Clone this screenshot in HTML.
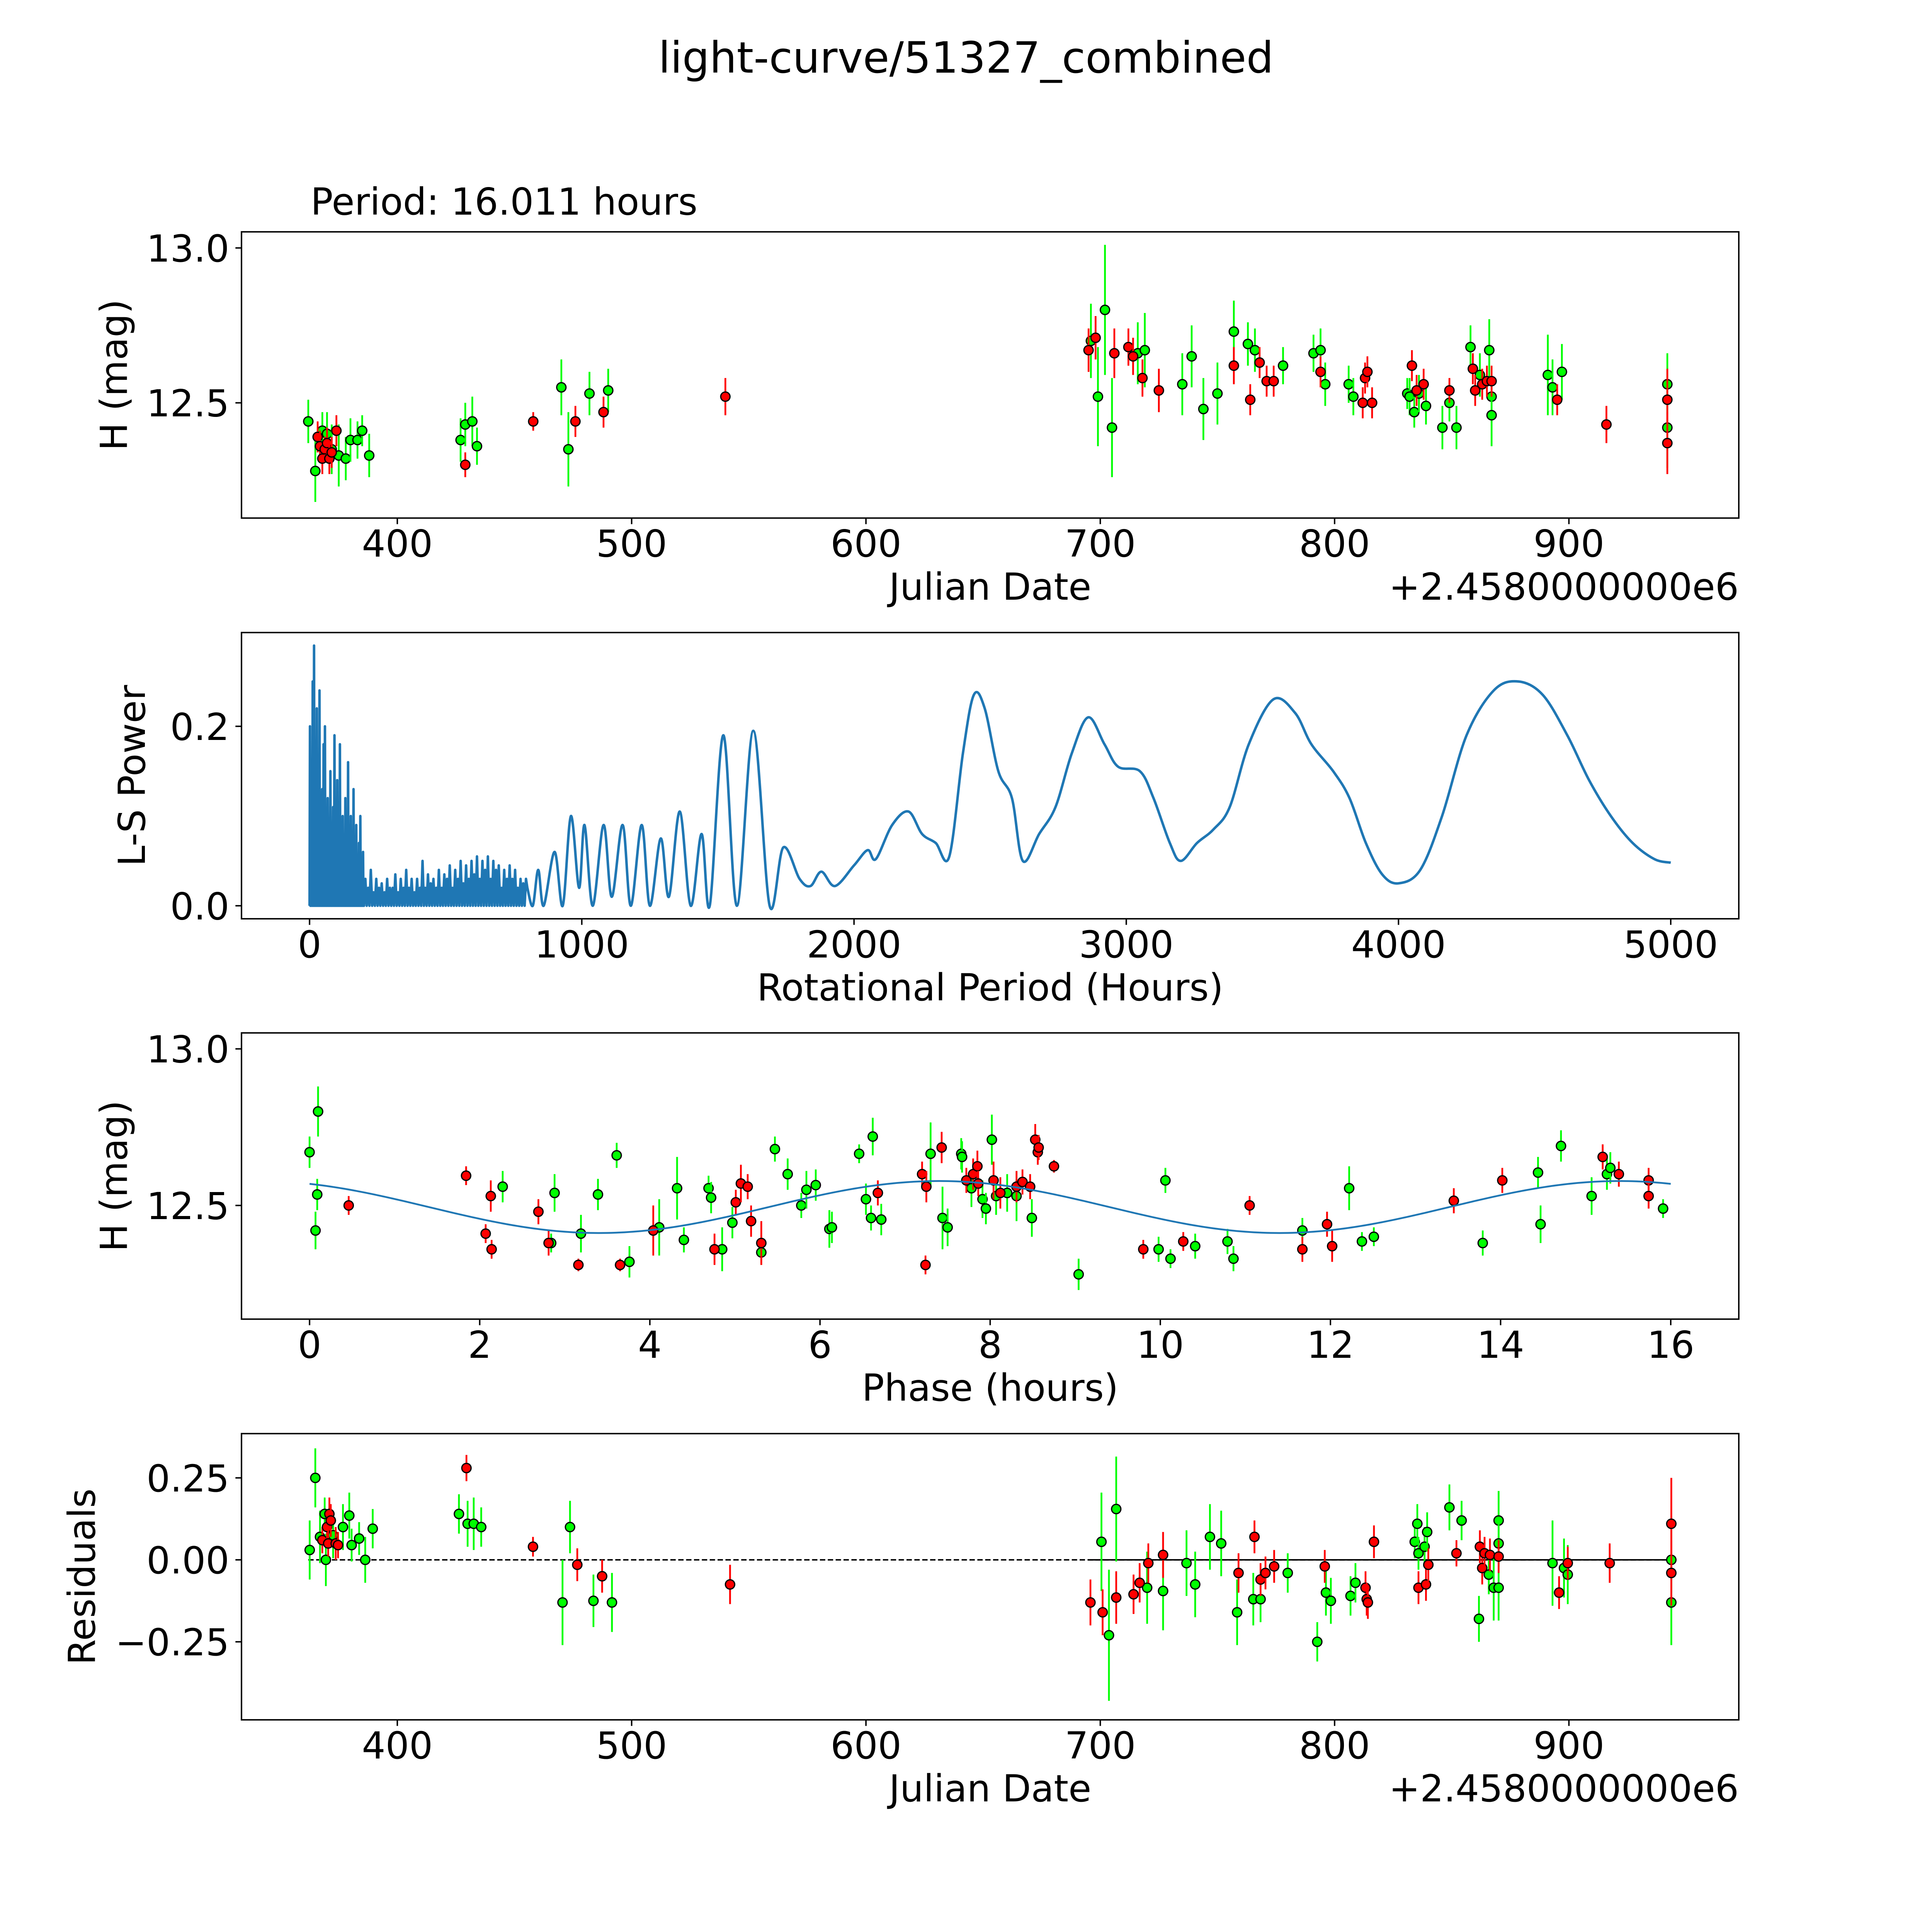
<!DOCTYPE html>
<html><head><meta charset="utf-8"><style>
html,body{margin:0;padding:0;background:#fff;width:100%;height:100%;overflow:hidden;}
svg{display:block;width:100vw;height:100vh;font-family:"DejaVu Sans","Liberation Sans",sans-serif;}
</style></head><body>
<svg id="fig" xmlns="http://www.w3.org/2000/svg" viewBox="0 0 5400 5400" preserveAspectRatio="xMidYMid meet">
<rect x="0" y="0" width="5400" height="5400" fill="#fff"/>
<text x="2700" y="203" font-size="120" text-anchor="middle">light-curve/51327_combined</text>
<text x="868" y="600" font-size="104">Period: 16.011 hours</text>
</svg>
<script>
// ---------- DATA ----------
const lcGreen = [[362,12.44,.07],[365,12.28,.1],[367,12.36,.05],[368,12.41,.06],[370,12.40,.07],[372,12.35,.08],[375,12.33,.1],[378,12.32,.07],[380,12.38,.07],[383,12.38,.06],[385,12.41,.05],[388,12.33,.07],[427,12.38,.07],[429,12.43,.07],[432,12.44,.08],[434,12.36,.06],[470,12.55,.09],[473,12.35,.12],[482,12.53,.07],[490,12.54,.07],[696,12.70,.12],[699,12.52,.16],[702,12.80,.21],[705,12.42,.16],[716,12.66,.1],[719,12.67,.12],[735,12.56,.1],[739,12.65,.1],[744,12.48,.1],[750,12.53,.1],[757,12.73,.1],[763,12.69,.07],[766,12.67,.07],[778,12.62,.06],[791,12.66,.06],[794,12.67,.07],[796,12.56,.07],[806,12.56,.06],[808,12.52,.06],[831,12.53,.05],[832,12.52,.06],[834,12.47,.05],[836,12.53,.06],[839,12.49,.06],[846,12.42,.07],[849,12.50,.06],[852,12.42,.07],[858,12.68,.07],[862,12.59,.07],[866,12.67,.1],[867,12.52,.07],[867,12.46,.1],[891,12.59,.13],[893,12.55,.09],[897,12.60,.09],[942,12.56,.1],[942,12.42,.13]];
const lcRed = [[366,12.39,.05],[367,12.36,.05],[368,12.32,.05],[369,12.35,.04],[370,12.37,.05],[371,12.32,.05],[372,12.34,.05],[374,12.41,.05],[429,12.30,.04],[458,12.44,.03],[476,12.44,.05],[488,12.47,.05],[540,12.52,.06],[695,12.67,.07],[698,12.71,.07],[706,12.66,.08],[712,12.68,.06],[714,12.65,.06],[718,12.58,.06],[725,12.54,.07],[757,12.62,.06],[764,12.51,.05],[768,12.63,.05],[771,12.57,.05],[774,12.57,.05],[794,12.60,.05],[812,12.50,.05],[813,12.58,.05],[814,12.60,.05],[816,12.50,.05],[833,12.62,.05],[835,12.54,.05],[838,12.56,.05],[849,12.54,.04],[859,12.61,.05],[860,12.54,.05],[863,12.56,.05],[865,12.57,.05],[867,12.57,.05],[895,12.51,.05],[916,12.43,.06],[942,12.51,.1],[942,12.37,.1]];

const lsSpikeStart = 0, lsSpikeStep = 5;
const lsSpikes = [0.2,0.12,0.25,0.29,0.15,0.22,0.1,0.24,0.08,0.13,0.18,0.2,0.06,0.12,0.09,0.15,0.05,0.11,0.19,0.08,0.14,0.07,0.18,0.06,0.1,0.05,0.12,0.04,0.16,0.08,0.1,0.05,0.13,0.07,0.09,0.04,0.07,0.1,0.03,0.06];
const lsLowStart = 200, lsLowStep = 10;
const lsLow = [0.03,0.02,0.04,0.015,0.03,0.02,0.025,0.015,0.03,0.02,0.02,0.035,0.015,0.03,0.02,0.04,0.02,0.03,0.015,0.03,0.02,0.05,0.02,0.035,0.025,0.03,0.02,0.04,0.02,0.035,0.03,0.045,0.02,0.04,0.03,0.05,0.025,0.045,0.03,0.05,0.035,0.055,0.03,0.05,0.04,0.055,0.03,0.05,0.04,0.045,0.02,0.04,0.03,0.045,0.03,0.04,0.02,0.03,0.025,0.03];
const lsPeriods = [800,820,840,860,900,930,960,990,1010,1040,1080,1110,1150,1180,1220,1250,1290,1320,1360,1400,1440,1470,1520,1570,1630,1690,1740,1800,1840,1880,1930,2000,2050,2080,2140,2200,2250,2300,2350,2400,2440,2480,2530,2580,2620,2680,2740,2800,2860,2920,2970,3050,3100,3160,3200,3260,3320,3380,3450,3540,3620,3680,3760,3820,3880,3940,4000,4080,4160,4250,4350,4440,4530,4620,4700,4780,4860,4940,5000];
const lsPower = [0.02,0.0,0.04,0.0,0.06,0.0,0.1,0.02,0.09,0.0,0.09,0.01,0.09,0.0,0.09,0.0,0.075,0.01,0.105,0.0,0.08,0.0,0.19,0.0,0.195,0.0,0.065,0.03,0.022,0.038,0.022,0.045,0.062,0.052,0.09,0.105,0.08,0.07,0.055,0.17,0.235,0.22,0.15,0.12,0.05,0.08,0.11,0.17,0.21,0.18,0.155,0.15,0.12,0.07,0.05,0.07,0.085,0.11,0.18,0.23,0.215,0.18,0.15,0.12,0.07,0.035,0.025,0.04,0.1,0.19,0.24,0.25,0.235,0.19,0.14,0.1,0.07,0.052,0.048];

const phGreen = [[0,12.67,.05],[.09,12.535,.05],[.07,12.42,.06],[.1,12.80,.08],[2.27,12.56,.05],[2.84,12.38,.03],[2.88,12.54,.06],[3.19,12.41,.06],[3.39,12.535,.05],[3.61,12.66,.04],[3.76,12.32,.05],[4.11,12.43,.09],[4.32,12.555,.1],[4.4,12.39,.04],[4.69,12.555,.04],[4.72,12.525,.05],[4.85,12.36,.07],[4.97,12.445,.05],[5.31,12.35,.04],[5.47,12.68,.04],[5.62,12.6,.05],[5.78,12.5,.04],[5.84,12.55,.06],[5.95,12.565,.05],[6.11,12.425,.06],[6.14,12.43,.05],[6.46,12.665,.03],[6.54,12.52,.05],[6.6,12.46,.04],[6.62,12.72,.06],[6.72,12.455,.05],[7.3,12.665,.1],[7.44,12.46,.1],[7.5,12.43,.06],[7.66,12.665,.05],[7.67,12.655,.05],[7.78,12.555,.06],[7.91,12.52,.06],[7.95,12.49,.05],[8.02,12.71,.08],[8.07,12.53,.06],[8.2,12.54,.06],[8.31,12.53,.08],[8.49,12.46,.06],[9.04,12.28,.05],[9.98,12.36,.04],[10.06,12.58,.04],[10.12,12.33,.03],[10.41,12.37,.04],[10.79,12.385,.04],[10.86,12.33,.04],[11.67,12.42,.04],[12.22,12.555,.07],[12.37,12.385,.03],[12.51,12.4,.03],[13.79,12.38,.04],[14.44,12.605,.05],[14.47,12.44,.06],[14.71,12.69,.05],[15.07,12.53,.06],[15.25,12.6,.05],[15.29,12.62,.05],[15.91,12.49,.03]];
const phRed = [[.46,12.5,.03],[1.84,12.595,.03],[2.07,12.41,.03],[2.13,12.53,.05],[2.14,12.36,.03],[2.69,12.48,.04],[2.81,12.38,.04],[3.16,12.31,.02],[3.65,12.31,.02],[4.04,12.42,.08],[4.76,12.36,.05],[5.01,12.51,.04],[5.07,12.57,.06],[5.15,12.56,.04],[5.19,12.45,.05],[5.31,12.38,.07],[6.68,12.54,.04],[7.2,12.6,.04],[7.24,12.31,.03],[7.25,12.56,.05],[7.43,12.685,.05],[7.72,12.58,.04],[7.8,12.6,.05],[7.85,12.625,.05],[7.86,12.57,.04],[8.04,12.58,.06],[8.12,12.54,.05],[8.31,12.56,.05],[8.38,12.575,.04],[8.47,12.56,.04],[8.53,12.71,.05],[8.56,12.67,.04],[8.57,12.685,.04],[8.75,12.625,.02],[9.8,12.36,.03],[10.27,12.385,.03],[11.05,12.5,.03],[11.67,12.36,.04],[11.96,12.44,.04],[12.02,12.37,.05],[13.45,12.515,.04],[14.02,12.58,.04],[15.2,12.655,.04],[15.39,12.6,.04],[15.74,12.58,.04],[15.74,12.53,.04]];
const modelMean = 12.495, modelAmp = 0.083, modelCycle = 8.0, modelPeakPhase = 7.4;

const resGreen = [[362.6,.03,.09],[365,.25,.09],[367,.07,.08],[369,.14,.05],[369.5,0,.08],[372.6,.075,.07],[376.8,.10,.07],[379.5,.135,.07],[380.5,.045,.05],[383.7,.065,.05],[386.3,0,.07],[389.5,.095,.06],[426.3,.14,.06],[430,.11,.07],[432.6,.11,.08],[435.8,.10,.06],[470.5,-.13,.13],[473.7,.10,.08],[483.7,-.125,.08],[491.6,-.13,.09],[700.5,.055,.15],[703.7,-.23,.2],[706.8,.155,.16],[720,-.085,.11],[726.8,-.095,.12],[736.8,-.01,.1],[740.5,-.075,.1],[746.8,.07,.1],[751.6,.05,.1],[758.4,-.16,.1],[765.3,-.12,.08],[768.4,-.12,.07],[780,-.04,.06],[792.6,-.25,.06],[796.3,-.1,.07],[798.4,-.125,.07],[806.8,-.11,.06],[808.9,-.07,.06],[834.2,.055,.05],[835.3,.11,.06],[835.8,.02,.05],[838.4,.04,.06],[839.5,.085,.06],[849,.16,.07],[854.2,.12,.06],[861.6,-.18,.07],[865.8,-.045,.06],[867.9,-.085,.1],[870,.12,.09],[870,.05,.07],[870,-.085,.1],[893,-.01,.13],[897.9,-.025,.09],[899.5,-.045,.09],[943.7,0,.1],[943.7,-.13,.13]];
const resRed = [[368,.06,.04],[370,.10,.05],[370.5,.05,.04],[371,.14,.05],[371.6,.12,.05],[373.7,.05,.05],[374.7,.045,.04],[429.5,.28,.04],[457.9,.04,.03],[476.8,-.015,.05],[487.4,-.05,.05],[542,-.075,.06],[695.8,-.13,.07],[701,-.16,.07],[706.8,-.115,.08],[714.2,-.105,.06],[716.8,-.07,.06],[720.5,-.01,.06],[726.8,.015,.07],[759,-.04,.06],[765.8,.07,.05],[768.4,-.06,.05],[770.5,-.04,.05],[774.2,-.02,.05],[795.8,-.02,.05],[813.2,-.085,.05],[813.7,-.12,.05],[814.2,-.13,.05],[816.8,.055,.05],[835.8,-.085,.05],[839,-.075,.05],[840,-.015,.05],[852,.02,.04],[862,.04,.05],[863,-.025,.05],[864,.02,.05],[866.3,.015,.05],[870,.01,.05],[895.8,-.1,.05],[899.5,-.01,.05],[917.4,-.01,.06],[943.7,.11,.14],[943.7,-.04,.1]];

const jdTicks = [400,500,600,700,800,900];
const magTicks = [13.0,12.5];
const magTickLabels = ['13.0','12.5'];
const lsXTicks = [0,1000,2000,3000,4000,5000];
const lsYTicks = [0.0,0.2];
const lsYTickLabels = ['0.0','0.2'];
const phTicks = [0,2,4,6,8,10,12,14,16];
const resTicks = [0.25,0,-0.25];
const resTickLabels = ['0.25','0.00','\u22120.25'];

// ---------- DRAWING ----------
const NS = 'http://www.w3.org/2000/svg';
const svg = document.getElementById('fig');
const L = 675, R = 4860, PH = 800;
const tops = [648, 1768, 2887, 4007];
function mk(tag, attrs, parent){ const e=document.createElementNS(NS,tag); for(const k in attrs) e.setAttribute(k,attrs[k]); (parent||svg).appendChild(e); return e; }
function scale(d0,d1,r0,r1){ return v => r0 + (v-d0)/(d1-d0)*(r1-r0); }

function axes(i, xd, yd, name){
  const t = tops[i], b = t+PH;
  const g = mk('g',{});
  
  
  return {g, t, b, x: scale(xd[0],xd[1],L,R), y: scale(yd[0],yd[1],b,t)};
}
function frame(ax){
  const r = mk('rect',{x:L,y:ax.t,width:R-L,height:PH,fill:'none',stroke:'#000','stroke-width':4},ax.g);
  
  
}
function xticks(ax, vals, labels){
  vals.forEach((v,k)=>{
    const x = ax.x(v);
    const tk = mk('line',{x1:x,x2:x,y1:ax.b,y2:ax.b+17,stroke:'#000','stroke-width':4},ax.g);
    
    
    const tx = mk('text',{x:x,y:ax.b+108,'font-size':104,'text-anchor':'middle'},ax.g);
    tx.textContent = labels ? labels[k] : String(v);
    
    
  });
}
function yticks(ax, vals, labels){
  vals.forEach((v,k)=>{
    const y = ax.y(v);
    const tk = mk('line',{x1:L-17,x2:L,y1:y,y2:y,stroke:'#000','stroke-width':4},ax.g);
    
    
    const tx = mk('text',{x:L-34,y:y+38,'font-size':104,'text-anchor':'end'},ax.g);
    tx.textContent = labels[k];
    
    
  });
}
function xlabel(ax, s){
  const tx = mk('text',{x:(L+R)/2,y:ax.b+228,'font-size':104,'text-anchor':'middle'},ax.g);
  tx.textContent = s;
  
  
}
function offsetText(ax){
  const tx = mk('text',{x:R,y:ax.b+228,'font-size':104,'text-anchor':'end'},ax.g);
  tx.textContent = '+2.4580000000e6';
  
  
}
function ylabel(ax, s, xpos){
  const cy = (ax.t+ax.b)/2;
  const tx = mk('text',{x:xpos,y:cy,'font-size':104,'text-anchor':'middle',transform:`rotate(-90 ${xpos} ${cy})`},ax.g);
  tx.textContent = s;
  
  
}
function points(ax, arr, color){
  arr.forEach(p=>{
    const x = ax.x(p[0]);
    const bar = mk('line',{x1:x,x2:x,y1:ax.y(p[1]-p[2]),y2:ax.y(p[1]+p[2]),stroke:color,'stroke-width':5},ax.g);
    
    
    const c = mk('circle',{cx:x,cy:ax.y(p[1]),r:13,fill:color,stroke:'#000','stroke-width':3.5},ax.g);
    
    
  });
}
const GREEN = '#00ff00', RED = '#ff0000';

// Panel 1 - light curve
const a1 = axes(0,[333.5,972.5],[12.128,13.052],'light-curve-panel');
points(a1, lcGreen, GREEN);
points(a1, lcRed, RED);
frame(a1); xticks(a1, jdTicks); yticks(a1, magTicks, magTickLabels);
xlabel(a1,'Julian Date'); offsetText(a1); ylabel(a1,'H (mag)',355);

// Panel 2 - periodogram
const a2 = axes(1,[-250,5250],[-0.0145,0.3045],'periodogram-panel');
let d = '';
lsSpikes.forEach((h,i)=>{ const p = lsSpikeStart + i*lsSpikeStep; d += (i? 'L':'M') + a2.x(p) + ',' + a2.y(0) + ' L' + a2.x(p+lsSpikeStep*0.3) + ',' + a2.y(h) + ' L' + a2.x(p+lsSpikeStep*0.6) + ',' + a2.y(0) + ' '; });
lsLow.forEach((h,i)=>{ const p = lsLowStart + i*lsLowStep; d += 'L' + a2.x(p) + ',' + a2.y(0) + ' L' + a2.x(p+lsLowStep*0.5) + ',' + a2.y(h) + ' '; });
const P = lsPeriods.map((p,i)=>[a2.x(p), a2.y(lsPower[i])]);
d += 'L' + P[0][0] + ',' + P[0][1] + ' ';
for(let i=0;i<P.length-1;i++){
  const p0=P[Math.max(i-1,0)], p1=P[i], p2=P[i+1], p3=P[Math.min(i+2,P.length-1)];
  const c1=[p1[0]+(p2[0]-p0[0])/6, p1[1]+(p2[1]-p0[1])/6], c2=[p2[0]-(p3[0]-p1[0])/6, p2[1]-(p3[1]-p1[1])/6];
  d += `C${c1[0]},${c1[1]} ${c2[0]},${c2[1]} ${p2[0]},${p2[1]} `;
}
const ls = mk('path',{d:d,fill:'none',stroke:'#1f77b4','stroke-width':7,'stroke-linejoin':'round'},a2.g);


frame(a2); xticks(a2, lsXTicks); yticks(a2, lsYTicks, lsYTickLabels);
xlabel(a2,'Rotational Period (Hours)'); ylabel(a2,'L-S Power',405);

// Panel 3 - phased
const a3 = axes(2,[-0.8,16.8],[12.137,13.051],'phase-folded-panel');
points(a3, phGreen, GREEN);
points(a3, phRed, RED);
let md = '';
for(let k=0;k<=320;k++){ const t = 16*k/320; const m = modelMean + modelAmp*Math.cos(2*Math.PI*(t-modelPeakPhase)/modelCycle); md += (k?'L':'M') + a3.x(t) + ',' + a3.y(m) + ' '; }
const ml = mk('path',{d:md,fill:'none',stroke:'#1f77b4','stroke-width':5},a3.g);


frame(a3); xticks(a3, phTicks); yticks(a3, magTicks, magTickLabels);
xlabel(a3,'Phase (hours)'); ylabel(a3,'H (mag)',355);

// Panel 4 - residuals
const a4 = axes(3,[333.5,972.5],[-0.488,0.385],'residuals-panel');
const zl = mk('line',{x1:a4.x(362),x2:a4.x(943.7),y1:a4.y(0),y2:a4.y(0),stroke:'#000','stroke-width':4,'stroke-dasharray':'15 7'},a4.g);


const zl2 = mk('line',{x1:a4.x(695),x2:a4.x(943.7),y1:a4.y(0),y2:a4.y(0),stroke:'#000','stroke-width':4},a4.g);


points(a4, resGreen, GREEN);
points(a4, resRed, RED);
frame(a4); xticks(a4, jdTicks); yticks(a4, resTicks, resTickLabels);
xlabel(a4,'Julian Date'); offsetText(a4); ylabel(a4,'Residuals',265);
</script>
</body></html>
